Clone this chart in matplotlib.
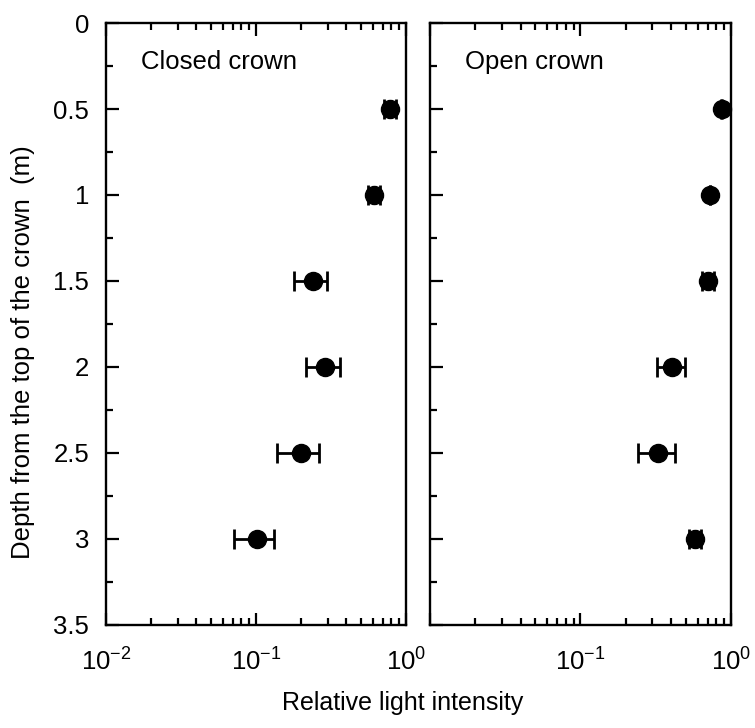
import matplotlib
matplotlib.use("Agg")
import matplotlib.pyplot as plt
import numpy as np
from matplotlib.ticker import MultipleLocator, LogLocator, NullFormatter

plt.rcParams['font.family'] = ['Liberation Sans', 'DejaVu Sans']
plt.rcParams['mathtext.fontset'] = 'custom'
plt.rcParams['mathtext.rm'] = 'Liberation Sans'
plt.rcParams['mathtext.default'] = 'regular'

depth = [0.5, 1.0, 1.5, 2.0, 2.5, 3.0]

closed_mean = [0.78, 0.61, 0.239, 0.288, 0.199, 0.101]
closed_lo = [0.71, 0.555, 0.179, 0.214, 0.139, 0.0718]
closed_hi = [0.855, 0.67, 0.298, 0.363, 0.262, 0.132]

open_mean = [0.867, 0.725, 0.707, 0.407, 0.329, 0.576]
open_lo = [0.86, 0.72, 0.645, 0.322, 0.241, 0.525]
open_hi = [0.875, 0.73, 0.775, 0.497, 0.427, 0.632]

titles = ["Closed crown", "Open crown"]
xtick_vals = [0.01, 0.1, 1.0]
xtick_labels_left = ['$10^{-2}$', '$10^{-1}$', '$10^{0}$']
xtick_labels_right = ['', '$10^{-1}$', '$10^{0}$']
ytick_vals = [0, 0.5, 1, 1.5, 2, 2.5, 3, 3.5]
ytick_labels = ['0', '0.5', '1', '1.5', '2', '2.5', '3', '3.5']

fig = plt.figure(figsize=(7.55, 7.28), dpi=100)
axL = fig.add_axes([0.1404, 0.1415, 0.3973, 0.8269])
axR = fig.add_axes([0.5695, 0.1415, 0.3987, 0.8269])

series = [(closed_mean, closed_lo, closed_hi), (open_mean, open_lo, open_hi)]
for i, (ax, (m, lo, hi)) in enumerate(zip([axL, axR], series)):
    m = np.array(m); lo = np.array(lo); hi = np.array(hi)
    ax.errorbar(m, depth, xerr=[m - lo, hi - m], fmt='none', ecolor='black',
                elinewidth=2, capsize=7, capthick=2, zorder=2, clip_on=False)
    ax.plot(m, depth, 'o', color='black', markersize=13, zorder=3, clip_on=False)
    ax.set_xscale('log')
    ax.set_xlim(0.01, 1.0)
    ax.set_ylim(3.5, 0)
    ax.set_yticks(ytick_vals)
    ax.yaxis.set_minor_locator(MultipleLocator(0.25))
    ax.set_xticks(xtick_vals)
    ax.xaxis.set_minor_locator(LogLocator(base=10, subs=np.arange(2, 10)))
    ax.xaxis.set_minor_formatter(NullFormatter())
    if i == 0:
        ax.set_yticklabels(ytick_labels)
        ax.set_xticklabels(xtick_labels_left)
    else:
        ax.set_yticklabels([])
        ax.set_xticklabels(xtick_labels_right)
    ax.tick_params(axis='both', which='major', direction='in', length=9, width=1.6,
                   labelsize=18.5)
    ax.tick_params(axis='both', which='minor', direction='in', length=5, width=1.6)
    ax.tick_params(axis='x', which='both', top=True, bottom=True, pad=17)
    ax.tick_params(axis='y', which='both', left=True, right=False, pad=12)
    for sp in ax.spines.values():
        sp.set_linewidth(1.7)
    ax.text(0.118, 0.935, titles[i], transform=ax.transAxes, fontsize=18.5,
            ha='left', va='center')

fig.text(0.533, 0.034, "Relative light intensity", fontsize=18, ha='center', va='center')
fig.text(0.03, 0.516, "Depth from the top of the crown  (m)", fontsize=18.5,
         rotation=90, ha='center', va='center')

fig.savefig("out.png", dpi=100)
